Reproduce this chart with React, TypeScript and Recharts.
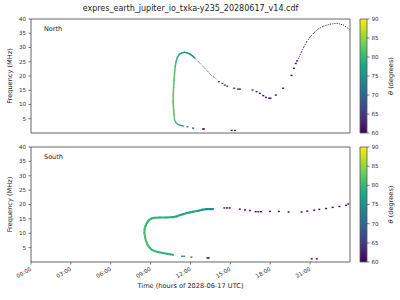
import {
  ScatterChart,
  Scatter,
  XAxis,
  YAxis,
  ReferenceArea,
  BarChart,
  Bar,
  Label,
} from "recharts";

const FONT = "'DejaVu Sans', sans-serif";

const hourTicks = [0, 3, 6, 9, 12, 15, 18, 21];
const hourLabels = ["00:00", "03:00", "06:00", "09:00", "12:00", "15:00", "18:00", "21:00"];
const freqTicks = [5, 10, 15, 20, 25, 30, 35, 40];
const thetaTicks = [60, 65, 70, 75, 80, 85, 90];

// North: solid arc (vertical stem and top of the hook)
const northArcTime = [10.76, 10.74, 10.71, 10.69, 10.7, 10.73, 10.76, 10.8, 10.85, 10.92, 11.02, 11.16, 11.34, 11.55, 11.76, 11.96, 12.14, 12.32];
const northArcFreq = [6.3, 8.0, 9.5, 11.0, 13.5, 16.0, 18.5, 21.0, 23.3, 25.2, 26.6, 27.6, 28.1, 28.3, 28.1, 27.7, 27.1, 26.3];
const northArcTheta = [82, 82, 82, 82, 82, 82, 82, 82, 81, 80, 78, 77, 77, 76, 76, 75, 74, 73];

// North: dotted fall after the top
const northFallTime = [12.32, 12.7, 13.08, 13.58, 13.96];
const northFallFreq = [26.3, 24.5, 22.7, 20.2, 18.9];
const northFallTheta = [73, 72, 71, 70, 69];

// North: low-frequency tail
const northLowTime = [10.76, 10.79, 10.85, 10.94, 11.06, 11.2, 11.36, 11.5];
const northLowFreq = [6.3, 5.0, 4.1, 3.4, 3.0, 2.75, 2.55, 2.4];
const northLowTheta = [82, 81, 80, 79, 78, 77, 76, 76];

// North: late rise (dotted)
const northRiseTime = [20.1, 20.36, 20.54, 20.74, 20.99, 21.29, 21.62, 22.0, 22.5, 23.0, 23.5, 23.98];
const northRiseFreq = [25.9, 28.5, 30.3, 32.0, 33.6, 35.2, 36.5, 37.5, 38.2, 38.5, 37.9, 36.3];
const northRiseTheta = [60.5, 60.5, 60.5, 60.5, 60.5, 60.5, 60.5, 60.5, 60.5, 60.5, 60.5, 60.5];

// North: isolated pixels
const northDotTime = [11.77, 12.2, 12.94, 13.02, 15.1, 15.34, 14.15, 14.4, 14.58, 14.76, 15.28, 15.58, 15.72, 16.67, 16.97, 17.22, 17.47, 17.67, 17.92, 18.02, 18.42, 18.97, 19.6, 19.78, 19.92, 20.02];
const northDotFreq = [2.2, 1.7, 1.4, 1.4, 0.9, 0.9, 18.0, 17.4, 16.8, 16.4, 15.7, 15.4, 15.4, 15.1, 14.5, 13.9, 13.1, 12.5, 12.2, 12.2, 13.3, 15.7, 20.2, 22.7, 24.4, 25.3];
const northDotTheta = [75, 68, 62, 62, 61, 61, 68, 67, 67, 66, 65, 64, 64, 63, 62, 62, 61, 61, 61, 61, 61, 60.5, 60.5, 60.5, 60.5, 60.5];

// South: main hook
const southMainTime = [10.69, 10.3, 9.93, 9.6, 9.3, 9.05, 8.88, 8.75, 8.66, 8.58, 8.53, 8.55, 8.62, 8.72, 8.85, 9.05, 9.3, 9.7, 10.19, 10.69, 10.94, 11.19, 11.44, 11.7, 11.94, 12.2, 12.57, 12.9, 13.2, 13.7];
const southMainFreq = [2.5, 2.8, 3.1, 3.4, 3.8, 4.4, 5.2, 6.2, 7.3, 8.6, 10.2, 11.5, 12.6, 13.6, 14.5, 15.1, 15.4, 15.5, 15.5, 15.6, 15.8, 16.3, 16.6, 17.0, 17.2, 17.5, 17.8, 18.2, 18.4, 18.4];
const southMainTheta = [78, 79, 79, 80, 80, 80.5, 81, 81, 81, 81, 81, 81, 80.5, 80, 80, 79.5, 79, 79, 79, 79, 79, 78.5, 78, 78, 77.5, 77, 77, 76, 75, 75];

// South: isolated pixels
const southDotTime = [11.36, 11.52, 12.07, 13.27, 13.37, 14.55, 14.75, 14.95, 15.71, 16.1, 16.47, 16.9, 17.1, 17.3, 17.97, 18.65, 19.38, 20.36, 20.78, 21.12, 21.31, 21.5, 21.69, 22.2, 22.7, 23.2, 23.7, 23.87];
const southDotFreq = [2.0, 2.0, 1.7, 1.4, 1.4, 18.8, 18.8, 18.8, 18.4, 18.1, 17.9, 17.5, 17.5, 17.5, 17.6, 17.6, 17.4, 17.4, 17.7, 1.1, 18.0, 1.1, 18.3, 18.6, 19.0, 19.3, 19.7, 20.2];
const southDotTheta = [76, 76, 72, 61, 61, 61, 61, 61, 61, 60.5, 60.5, 60.5, 60.5, 60.5, 60.5, 60.5, 60.5, 60.5, 60.5, 60.5, 60.5, 60.5, 60.5, 60.5, 60.5, 60.5, 61, 61];

const VIRIDIS = ["#440154", "#482475", "#414487", "#355f8d", "#2a788e", "#21918c", "#22a884", "#44bf70", "#7ad151", "#bddf26", "#fde725"];

function viridis(theta: number) {
  const u = Math.max(0, Math.min(1, (theta - 60) / 30)) * 10;
  const i = Math.min(9, Math.floor(u));
  const k = u - i;
  const a = VIRIDIS[i];
  const b = VIRIDIS[i + 1];
  const ch = (s: string, o: number) => parseInt(s.slice(o, o + 2), 16);
  const mix = (o: number) => Math.round(ch(a, o) + (ch(b, o) - ch(a, o)) * k);
  return `rgb(${mix(1)},${mix(3)},${mix(5)})`;
}

const rows = (t: number[], f: number[], th: number[]) =>
  t.map((v, i) => ({ t: v, f: f[i], theta: th[i] }));

const noMarker = () => <g />;

const dotShape = (props: any) => {
  const { cx, cy } = props;
  const theta = props.payload?.theta ?? props.theta;
  return <rect x={cx - 1} y={cy - 0.7} width={2} height={1.4} fill={viridis(theta)} />;
};

function trace(id: string, pts: any[], width: number, dash?: string) {
  return pts.slice(1).map((p, i) => (
    <Scatter
      key={`${id}-${i}`}
      data={[pts[i], p]}
      shape={noMarker}
      lineType="joint"
      line={{
        stroke: viridis((pts[i].theta + p.theta) / 2),
        strokeWidth: width,
        strokeDasharray: dash,
        strokeLinecap: dash ? "butt" : "round",
      }}
      isAnimationActive={false}
    />
  ));
}

const tickStyle = { fontSize: 5.6, fill: "#333", fontFamily: FONT };

const TimeTick = ({ x, y, payload }: any) => {
  const ax = x + 0.8;
  const ay = y + 3.6;
  return (
    <text
      x={ax}
      y={ay}
      transform={`rotate(-30 ${ax} ${ay})`}
      textAnchor="end"
      {...tickStyle}
    >
      {hourLabels[hourTicks.indexOf(payload.value)]}
    </text>
  );
};

const freqLabel = ({ viewBox }: any) => (
  <text
    x={10}
    y={viewBox.y + viewBox.height / 2}
    transform={`rotate(-90 10 ${viewBox.y + viewBox.height / 2})`}
    textAnchor="middle"
    dominantBaseline="central"
    fontSize={6.6}
    fill="#222"
    fontFamily={FONT}
  >
    Frequency (MHz)
  </text>
);

function Panel({ top, height, margin, name, children, showTime }: any) {
  return (
    <div style={{ position: "absolute", left: 0, top }}>
      <ScatterChart width={360} height={height} margin={margin}>
        <XAxis
          type="number"
          dataKey="t"
          domain={[0, 24]}
          allowDataOverflow
          ticks={hourTicks}
          tickSize={2.5}
          tickMargin={2}
          axisLine={false}
          tickLine={{ stroke: "#555", strokeWidth: 0.8 }}
          height={showTime ? 38 : 5}
          tick={showTime ? <TimeTick /> : false}
        >
          {showTime && (
            <Label
              content={({ viewBox }: any) => (
                <text
                  x={viewBox.x + viewBox.width / 2}
                  y={148}
                  textAnchor="middle"
                  fontSize={6.6}
                  fill="#222"
                  fontFamily={FONT}
                >
                  Time (hours of 2028-06-17 UTC)
                </text>
              )}
            />
          )}
        </XAxis>
        <YAxis
          type="number"
          dataKey="f"
          domain={[0, 40]}
          allowDataOverflow
          ticks={freqTicks}
          width={31}
          tickSize={2.5}
          tickMargin={2.5}
          axisLine={false}
          tickLine={{ stroke: "#555", strokeWidth: 0.8 }}
          tick={tickStyle}
        >
          <Label content={freqLabel} />
        </YAxis>
        {children}
        <ReferenceArea
          x1={0}
          x2={24}
          y1={0}
          y2={40}
          fill="none"
          stroke="#555"
          strokeWidth={0.9}
          ifOverflow="visible"
        />
      </ScatterChart>
      <div
        style={{
          position: "absolute",
          left: 44,
          top: margin.top + 6,
          fontSize: 6.5,
          fontFamily: FONT,
          color: "#222",
          lineHeight: "8px",
        }}
      >
        {name}
      </div>
    </div>
  );
}

function ColorBar({ top, height, margin }: any) {
  return (
    <div style={{ position: "absolute", left: 355, top }}>
      <BarChart
        width={45}
        height={height}
        margin={margin}
        data={[{ name: "c", range: [60, 90] }]}
        barCategoryGap={0}
      >
        <defs>
          <linearGradient id={`vir${top}`} x1="0" y1="1" x2="0" y2="0">
            {VIRIDIS.map((c, i) => (
              <stop key={c} offset={`${i * 10}%`} stopColor={c} />
            ))}
          </linearGradient>
        </defs>
        <XAxis dataKey="name" hide />
        <YAxis
          orientation="right"
          type="number"
          domain={[60, 90]}
          ticks={thetaTicks}
          width={33}
          tickSize={2.5}
          tickMargin={2}
          axisLine={false}
          tickLine={{ stroke: "#555", strokeWidth: 0.8 }}
          tick={{ ...tickStyle, textAnchor: "start" }}
        >
          <Label
            content={({ viewBox }: any) => {
              const cx = 36;
              const cy = viewBox.y + viewBox.height / 2;
              return (
                <text
                  x={cx}
                  y={cy}
                  transform={`rotate(-90 ${cx} ${cy})`}
                  textAnchor="middle"
                  dominantBaseline="central"
                  fontSize={6.6}
                  fill="#222"
                  fontFamily={FONT}
                >
                  <tspan fontStyle="italic">θ</tspan> (degrees)
                </text>
              );
            }}
          />
        </YAxis>
        <Bar
          dataKey="range"
          fill={`url(#vir${top})`}
          stroke="#555"
          strokeWidth={0.8}
          isAnimationActive={false}
        />
      </BarChart>
    </div>
  );
}

export default function App() {
  const nArc = rows(northArcTime, northArcFreq, northArcTheta);
  const nFall = rows(northFallTime, northFallFreq, northFallTheta);
  const nLow = rows(northLowTime, northLowFreq, northLowTheta);
  const nRise = rows(northRiseTime, northRiseFreq, northRiseTheta);
  const nDots = rows(northDotTime, northDotFreq, northDotTheta);
  const sMain = rows(southMainTime, southMainFreq, southMainTheta);
  const sDots = rows(southDotTime, southDotFreq, southDotTheta);

  return (
    <div
      style={{
        position: "absolute",
        left: 0,
        top: 0,
        width: 400,
        height: 300,
        background: "#fff",
        fontFamily: FONT,
      }}
    >
      <div
        style={{
          position: "absolute",
          left: 0,
          width: 381,
          top: 4,
          textAlign: "center",
          fontSize: 8,
          lineHeight: "10px",
          color: "#222",
        }}
      >
        expres_earth_jupiter_io_txka-y235_20280617_v14.cdf
      </div>
      <Panel top={0} height={140} margin={{ top: 19, right: 10, bottom: 2, left: 0 }} name="North">
        {trace("na", nArc, 1.5)}
        {trace("nl", nLow, 1.2)}
        {trace("nf", nFall, 1.0, "1 1")}
        {trace("nr", nRise, 1.0, "1 1.2")}
        <Scatter data={nDots} shape={dotShape} isAnimationActive={false} />
      </Panel>
      <Panel
        top={140}
        height={160}
        margin={{ top: 7, right: 10, bottom: 0, left: 0 }}
        name="South"
        showTime
      >
        {trace("sm", sMain, 2.1)}
        <Scatter data={sDots} shape={dotShape} isAnimationActive={false} />
      </Panel>
      <ColorBar top={0} height={140} margin={{ top: 19, right: 0, bottom: 7, left: 5 }} />
      <ColorBar top={140} height={160} margin={{ top: 7, right: 0, bottom: 38, left: 5 }} />
    </div>
  );
}
